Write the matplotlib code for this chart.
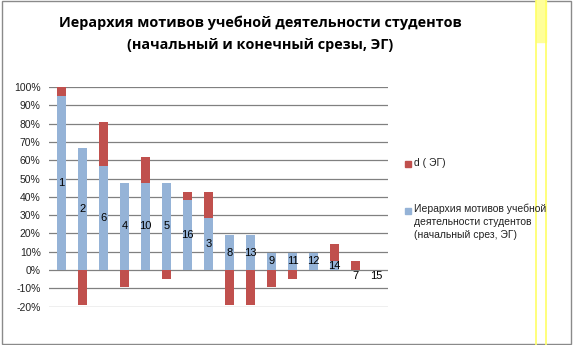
import matplotlib
matplotlib.use("Agg")
import matplotlib.pyplot as plt
from matplotlib.patches import Rectangle
from matplotlib.lines import Line2D
import numpy as np

# motive numbers in rank order
motives = ["1", "2", "6", "4", "10", "5", "16", "3", "8", "13", "9", "11", "12", "14", "7", "15"]
# hierarchy, initial cut (EG), share of students
start_vals = [0.952, 0.667, 0.571, 0.476, 0.476, 0.476, 0.381, 0.286,
              0.190, 0.190, 0.095, 0.095, 0.095, 0.048, 0.0, 0.0]
# d (EG): change between initial and final cut
d_vals = [0.048, -0.19, 0.238, -0.095, 0.143, -0.048, 0.048, 0.143,
          -0.19, -0.19, -0.095, -0.048, 0.0, 0.095, 0.048, 0.0]
yticks = np.arange(-0.2, 1.01, 0.1)

blue = "#95B3D7"
red = "#C0504D"

fig = plt.figure(figsize=(5.73, 3.45), dpi=100)
ax = fig.add_axes([0.0855, 0.111, 0.592, 0.637])

x = np.arange(len(motives))
start = np.array(start_vals)
d = np.array(d_vals)

# excel-style stacking: positives stack on blue, negatives hang from zero
bottom_d = np.where(d >= 0, start, 0)
ax.bar(x, start, width=0.43, color=blue, zorder=2)
ax.bar(x, d, width=0.43, bottom=bottom_d, color=red, zorder=2)

for i, lab in enumerate(motives):
    if start[i] > 0:
        ax.text(x[i], start[i] / 2, lab, ha="center", va="center", fontsize=8,
                family="Liberation Sans", color="black", zorder=3)
    else:
        ax.text(x[i], -0.005, lab, ha="center", va="top", fontsize=8,
                family="Liberation Sans", color="black", zorder=3)

ax.set_xlim(-0.6, len(motives) - 0.45)
ax.set_ylim(-0.2, 1.0)
ax.set_yticks(yticks)
ax.set_yticklabels([f"{round(v * 100)}%" for v in yticks], fontsize=7.5,
                   family="Liberation Sans", color="#222222")
ax.set_xticks([])
ax.tick_params(axis="y", length=0, pad=6)
for s in ax.spines.values():
    s.set_visible(False)
for v in yticks:
    ax.axhline(v, color="#808080", lw=0.9, zorder=1)

# title
fig.text(0.454, 0.935, "Иерархия мотивов учебной деятельности студентов",
         ha="center", va="center", fontsize=10.4, fontweight="bold", family="Open Sans")
fig.text(0.454, 0.87, "(начальный и конечный срезы, ЭГ)",
         ha="center", va="center", fontsize=10.4, fontweight="bold", family="Open Sans")

# legend
W, H = 573, 345
def px(xp, yp):
    return xp / W, 1 - yp / H
fig.patches.append(Rectangle(px(405, 167), 6 / W, 6 / H, transform=fig.transFigure,
                             color=red, figure=fig))
fig.text(*px(414, 163), "d ( ЭГ)", fontsize=7.5, family="Liberation Sans",
         va="center", color="#222222")
fig.patches.append(Rectangle(px(405, 214), 6 / W, 6 / H, transform=fig.transFigure,
                             color=blue, figure=fig))
fig.text(*px(414, 204), "Иерархия мотивов учебной\nдеятельности студентов\n(начальный срез, ЭГ)",
         fontsize=7.5, family="Liberation Sans", va="top", color="#222222",
         linespacing=1.35)

# chart frame and the yellow marks at the right edge
fig.patches.append(Rectangle((0.004, 0.004), 0.992, 0.992, transform=fig.transFigure,
                             fill=False, edgecolor="#8a8a8a", lw=1, figure=fig))
for xp in (536, 546):
    fig.lines.append(Line2D([xp / W, xp / W], [0, 1], transform=fig.transFigure,
                            color="#ffff66", lw=1.2, figure=fig))
fig.patches.append(Rectangle(px(536, 42), 10 / W, 42 / H, transform=fig.transFigure,
                             color="#ffff99", figure=fig))

fig.savefig("out.png", dpi=100)
